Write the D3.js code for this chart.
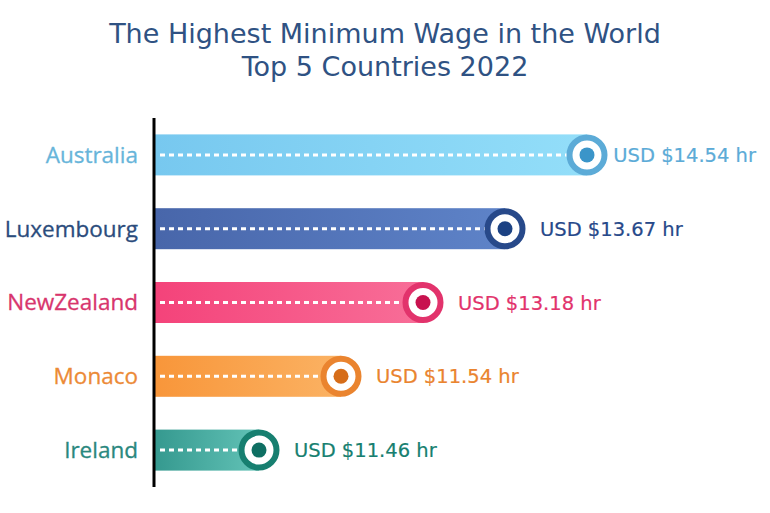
<!DOCTYPE html>
<html>
<head>
<meta charset="utf-8">
<script src="https://cdn.jsdelivr.net/npm/d3@7"></script>
<style>
	body { margin: 0; background: #fff; }
</style>
</head>
<body>
<div class="container"></div>
<script>
var countries = ['Australia', 'Luxembourg', 'NewZealand', 'Monaco', 'Ireland'];
var wages = [14.54, 13.67, 13.18, 11.54, 11.46];
var titleLines = ['The Highest Minimum Wage in the World', 'Top 5 Countries 2022'];

// colours per country: bar gradient start/end, ring, dot, label
var barStart = ['#77c8ef', '#4866aa', '#f4437a', '#f8963a', '#35998f'];
var barEnd = ['#93def9', '#5e83c8', '#f86e98', '#fbb263', '#62c2b6'];
var ringColor = ['#5cabd7', '#27498a', '#e2336c', '#ea842f', '#177f70'];
var dotColor = ['#3b95c9', '#1c4283', '#c8124f', '#d66d19', '#0f6f63'];
var labelColor = ['#67b5da', '#2b4c7c', '#d8356d', '#ec8a36', '#2a887e'];

var width = 770, height = 513;
var axisX = 154;

var svg = d3.select('.container')
	.append('svg')
	.attr('width', width)
	.attr('height', height);

// Title
svg.append('g')
	.selectAll('text')
	.data(titleLines)
	.enter().append('text')
	.attr('x', 385)
	.attr('y', (d, i) => 43 + i * 33)
	.attr('text-anchor', 'middle')
	.attr('font-family', 'DejaVu Sans, Verdana, sans-serif')
	.attr('font-size', 27)
	.attr('fill', '#2f5283')
	.text(d => d);

var data = countries.map((c, i) => ({ country: c, wage: wages[i], i: i }));

var yScale = d3.scalePoint()
	.domain(countries)
	.range([118, 487])
	.padding(0.5);

// bar length follows the rank, as in the original infographic
var xScale = d3.scalePoint()
	.domain(data.slice().sort((a, b) => a.wage - b.wage).map(d => d.country))
	.range([259, 587]);

var barH = 41;

var defs = svg.append('defs');
var grads = defs.selectAll('linearGradient')
	.data(data)
	.enter().append('linearGradient')
	.attr('id', d => 'grad' + d.i)
	.attr('x1', '0%').attr('x2', '100%')
	.attr('y1', '0%').attr('y2', '0%');
grads.append('stop').attr('offset', '0%').attr('stop-color', d => barStart[d.i]);
grads.append('stop').attr('offset', '100%').attr('stop-color', d => barEnd[d.i]);

var rows = svg.append('g')
	.selectAll('g')
	.data(data)
	.enter().append('g')
	.attr('transform', d => 'translate(0,' + yScale(d.country) + ')');

rows.append('rect')
	.attr('x', axisX + 1)
	.attr('y', -barH / 2)
	.attr('width', d => xScale(d.country) - axisX - 1)
	.attr('height', barH)
	.attr('fill', d => 'url(#grad' + d.i + ')');

rows.append('line')
	.attr('x1', 160)
	.attr('x2', d => xScale(d.country) - 14)
	.attr('y1', 0).attr('y2', 0)
	.attr('stroke', '#fff')
	.attr('stroke-width', 3)
	.attr('stroke-dasharray', '5,4');

rows.append('circle')
	.attr('cx', d => xScale(d.country))
	.attr('r', 17.5)
	.attr('fill', '#fff')
	.attr('stroke', d => ringColor[d.i])
	.attr('stroke-width', 6);

rows.append('circle')
	.attr('cx', d => xScale(d.country))
	.attr('r', 7.5)
	.attr('fill', d => dotColor[d.i]);

rows.append('text')
	.attr('x', axisX - 16)
	.attr('y', 0)
	.attr('dy', '0.35em')
	.attr('text-anchor', 'end')
	.attr('font-family', 'Open Sans, sans-serif')
	.attr('font-size', 22.5)
	.attr('fill', d => labelColor[d.i])
	.attr('stroke', d => labelColor[d.i])
	.attr('stroke-width', 0.3)
	.text(d => d.country);

var valueLabels = rows.append('text')
	.attr('x', d => xScale(d.country) + 35)
	.attr('y', 0)
	.attr('dy', '0.36em')
	.attr('font-family', 'DejaVu Sans, Verdana, sans-serif')
	.attr('font-size', 19.5)
	.attr('fill', d => ringColor[d.i])
	.attr('stroke', d => ringColor[d.i])
	.attr('stroke-width', 0.2)
	.text(d => 'USD $' + d3.format('.2f')(d.wage) + ' hr');

// keep the value labels inside the picture
valueLabels.each(function () {
	var w = this.getComputedTextLength();
	var x = +this.getAttribute('x');
	if (x + w > width - 14) this.setAttribute('x', width - 14 - w);
});

// vertical axis line
svg.append('line')
	.attr('x1', axisX).attr('x2', axisX)
	.attr('y1', 118).attr('y2', 487)
	.attr('stroke', '#000')
	.attr('stroke-width', 3);
</script>
</body>
</html>
